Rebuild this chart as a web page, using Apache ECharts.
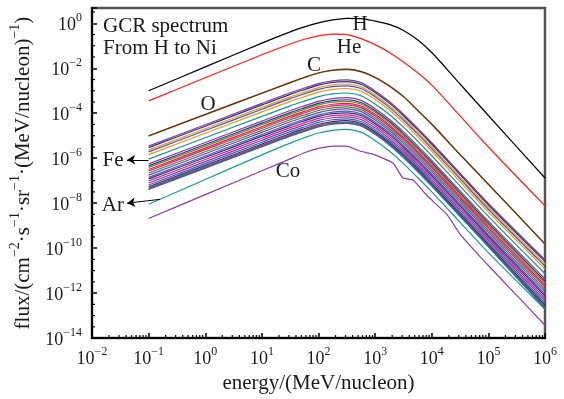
<!DOCTYPE html>
<html>
<head>
<meta charset="utf-8">
<script src="https://cdn.jsdelivr.net/npm/echarts@6.0.0/dist/echarts.min.js"></script>
<style>
  html, body { margin: 0; padding: 0; background: #fff; }
  #chart { width: 564px; height: 399px; }
</style>
</head>
<body>
<div id="chart"></div>
<script>
const FONT = '"Liberation Serif", "Times New Roman", serif';
const INK = "#1a1a1a";

// x grid: log10(energy / (MeV/nucleon))
const logE = [-1, 0, 1, 1.5, 1.75, 2, 2.25, 2.5, 2.75, 3, 3.25, 3.5, 3.75, 4, 4.5, 5, 6];

// log10(flux), one array per element
const H  = [-3.00, -1.94, -0.88, -0.38, -0.16, 0.02, 0.15, 0.22, 0.21, 0.10, -0.05, -0.32, -0.73, -1.30, -2.70, -4.10, -6.88];
const He = [-3.45, -2.42, -1.40, -0.92, -0.71, -0.56, -0.48, -0.50, -0.68, -0.95, -1.30, -1.72, -2.20, -2.75, -4.12, -5.50, -8.12];
const C  = [-5.02, -4.07, -3.12, -2.65, -2.42, -2.22, -2.10, -2.06, -2.16, -2.42, -2.80, -3.27, -3.88, -4.50, -5.85, -7.17, -9.83];
const O  = [-5.00, -4.05, -3.10, -2.63, -2.40, -2.20, -2.08, -2.04, -2.14, -2.40, -2.78, -3.25, -3.86, -4.48, -5.83, -7.15, -9.81];
const Ne = [-5.46, -4.51, -3.56, -3.09, -2.88, -2.68, -2.56, -2.52, -2.64, -3.01, -3.48, -4.04, -4.66, -5.31, -6.66, -8.01, -10.51];
const Mg = [-5.53, -4.58, -3.63, -3.16, -2.95, -2.75, -2.63, -2.59, -2.71, -3.08, -3.55, -4.11, -4.73, -5.38, -6.73, -8.08, -10.59];
const Si = [-5.64, -4.69, -3.74, -3.27, -3.06, -2.86, -2.74, -2.70, -2.82, -3.19, -3.66, -4.22, -4.84, -5.49, -6.84, -8.19, -10.71];
const N  = [-5.72, -4.77, -3.82, -3.35, -3.14, -2.94, -2.82, -2.78, -2.90, -3.27, -3.74, -4.30, -4.92, -5.57, -6.92, -8.27, -10.80];
const B  = [-5.84, -4.89, -3.94, -3.47, -3.26, -3.06, -2.94, -2.90, -3.02, -3.39, -3.86, -4.42, -5.04, -5.69, -7.04, -8.39, -10.93];
const Fe = [-6.04, -5.09, -4.14, -3.67, -3.46, -3.26, -3.14, -3.10, -3.22, -3.59, -4.06, -4.62, -5.24, -5.89, -7.24, -8.59, -11.14];
const S  = [-6.25, -5.30, -4.35, -3.88, -3.67, -3.47, -3.35, -3.31, -3.43, -3.80, -4.27, -4.83, -5.45, -6.10, -7.45, -8.80, -11.37];
const Li = [-6.34, -5.39, -4.44, -3.97, -3.76, -3.56, -3.44, -3.40, -3.52, -3.89, -4.36, -4.92, -5.54, -6.19, -7.54, -8.89, -11.47];
const Be = [-6.41, -5.46, -4.51, -4.04, -3.83, -3.63, -3.51, -3.47, -3.59, -3.96, -4.43, -4.99, -5.61, -6.26, -7.61, -8.96, -11.55];
const Ca = [-6.50, -5.55, -4.60, -4.13, -3.92, -3.72, -3.60, -3.56, -3.68, -4.05, -4.52, -5.08, -5.70, -6.35, -7.70, -9.05, -11.65];
const Ni = [-6.57, -5.62, -4.67, -4.20, -3.99, -3.79, -3.67, -3.63, -3.75, -4.12, -4.59, -5.15, -5.77, -6.42, -7.77, -9.12, -11.73];
const Na = [-6.66, -5.71, -4.76, -4.29, -4.08, -3.88, -3.76, -3.72, -3.84, -4.21, -4.68, -5.24, -5.86, -6.51, -7.86, -9.21, -11.83];
const Al = [-6.75, -5.80, -4.85, -4.38, -4.17, -3.97, -3.85, -3.81, -3.93, -4.30, -4.77, -5.33, -5.95, -6.60, -7.95, -9.30, -11.93];
const Cr = [-6.85, -5.90, -4.95, -4.48, -4.27, -4.07, -3.95, -3.91, -4.03, -4.40, -4.87, -5.43, -6.05, -6.70, -8.05, -9.40, -12.05];
const Ti = [-6.92, -5.97, -5.02, -4.55, -4.34, -4.14, -4.02, -3.98, -4.10, -4.47, -4.94, -5.50, -6.12, -6.77, -8.12, -9.47, -12.13];
const F  = [-7.01, -6.06, -5.11, -4.64, -4.43, -4.23, -4.11, -4.07, -4.19, -4.56, -5.03, -5.59, -6.21, -6.86, -8.21, -9.56, -12.23];
const P  = [-7.10, -6.15, -5.20, -4.73, -4.52, -4.32, -4.20, -4.16, -4.28, -4.65, -5.12, -5.68, -6.30, -6.95, -8.30, -9.65, -12.34];
const Mn = [-7.19, -6.24, -5.29, -4.82, -4.61, -4.41, -4.29, -4.25, -4.37, -4.74, -5.21, -5.77, -6.39, -7.04, -8.39, -9.74, -12.45];
const K  = [-7.27, -6.32, -5.37, -4.90, -4.69, -4.49, -4.37, -4.33, -4.45, -4.82, -5.29, -5.85, -6.47, -7.12, -8.47, -9.82, -12.54];
const Cl = [-7.33, -6.38, -5.43, -4.96, -4.75, -4.55, -4.43, -4.39, -4.51, -4.88, -5.35, -5.91, -6.53, -7.18, -8.53, -9.88, -12.62];
const Sc = [-7.36, -6.41, -5.46, -4.99, -4.78, -4.58, -4.46, -4.42, -4.54, -4.91, -5.38, -5.94, -6.56, -7.21, -8.56, -9.91, -12.64];
const V  = [-7.39, -6.44, -5.49, -5.02, -4.81, -4.61, -4.49, -4.45, -4.57, -4.94, -5.41, -5.97, -6.59, -7.24, -8.59, -9.94, -12.69];
const Ar = [-8.05, -6.95, -5.85, -5.33, -5.09, -4.88, -4.76, -4.72, -4.84, -5.21, -5.68, -6.24, -6.86, -7.50, -8.85, -10.20, -12.72];
// cobalt is jagged, so it keeps its own energies
const CoE = [-1, 0, 1, 1.5, 1.75, 2, 2.25, 2.5, 2.73, 2.96, 3.32, 3.49, 3.67, 3.92, 4.27, 4.5, 4.86, 5.5, 6];
const Co  = [-8.68, -7.62, -6.56, -6.03, -5.76, -5.56, -5.46, -5.46, -5.68, -5.82, -6.22, -6.88, -6.97, -7.67, -8.51, -9.38, -10.40, -12.10, -13.43];

// draw order and colours (H .. Ni)
const elements = [
  ["H", H, "#000000"], ["He", He, "#ff1f1f"], ["Li", Li, "#2c2c84"], ["Be", Be, "#5f8a2c"],
  ["B", B, "#f39019"], ["C", C, "#6f7f26"], ["N", N, "#3b5bb5"], ["O", O, "#6e2c1a"],
  ["F", F, "#e0197d"], ["Ne", Ne, "#7d3c98"], ["Na", Na, "#2e8b3e"], ["Mg", Mg, "#2c2c84"],
  ["Al", Al, "#7d3c98"], ["Si", Si, "#f39019"], ["P", P, "#7d3c98"], ["S", S, "#7d3c98"],
  ["Cl", Cl, "#e8202a"], ["Ar", Ar, "#1c9a96"], ["K", K, "#2c2c84"], ["Ca", Ca, "#e8202a"],
  ["Sc", Sc, "#3d7a3a"], ["Ti", Ti, "#2c2c84"], ["V", V, "#3b5bb5"], ["Cr", Cr, "#3b5bb5"],
  ["Mn", Mn, "#3b5bb5"], ["Fe", Fe, "#16918f"], ["Co", Co, "#8b3fa0"], ["Ni", Ni, "#e0197d"]
];

// in-plot labels (data coordinates)
const noteText = ["H", "He", "C", "O", "Fe", "Ar", "Co"];
const noteX = [2.735, 2.54, 1.92, 0.05, -1.63, -1.63, 1.46];
const noteY = [-0.07, -1.08, -1.87, -3.63, -6.09, -8.11, -6.57];

const sup = (v) => {
  const n = Math.round(v);
  if (Math.abs(v - n) > 1e-6) return "";
  return "{b|10}{s|" + String(n).replace("-", "\u2212") + "}";
};

const tickRich = {
  b: { fontFamily: FONT, fontSize: 18, color: INK, lineHeight: 22, verticalAlign: "bottom" },
  s: { fontFamily: FONT, fontSize: 12, color: INK, lineHeight: 12, verticalAlign: "top" }
};

// log minor ticks on x, half-decade minor ticks on y
const minorTicks = [];
for (let n = -2; n < 6; n++) {
  for (let k = 2; k <= 9; k++) minorTicks.push([n + Math.log10(k), -14, 0]);
}
for (let v = -13.5; v < 0.68; v += 1) minorTicks.push([-2, v, 1]);
for (let v = -13; v <= 0; v += 2) minorTicks.push([-2, v, 1]);

const chart = echarts.init(document.getElementById("chart"), null, { renderer: "canvas" });

const lineSeries = elements.map(([name, vals, color]) => {
  const xs = name === "Co" ? CoE : logE;
  const s = {
    name: name,
    type: "line",
    data: xs.map((x, i) => [x, vals[i]]),
    showSymbol: false,
    symbol: "none",
    smooth: name === "Co" ? 0.12 : 0.3,
    lineStyle: { color: color, width: 1.2 },
    itemStyle: { color: color },
    silent: true,
    animation: false
  };
  if (name === "Fe" || name === "Ar") {
    const from = name === "Fe" ? [-1.0, -6.07] : [-0.8, -7.83];
    const to = name === "Fe" ? [-1.38, -6.07] : [-1.38, -8.0];
    s.markLine = {
      silent: true,
      symbol: ["none", "arrow"],
      symbolSize: [7, 8],
      label: { show: false },
      lineStyle: { color: "#000", width: 1, type: "solid" },
      data: [[{ coord: from }, { coord: to }]],
      animation: false
    };
  }
  return s;
});

const option = {
  animation: false,
  backgroundColor: "#fff",
  title: {
    left: 98,
    top: 10,
    text: "GCR spectrum\nFrom H to Ni",
    textStyle: { fontFamily: FONT, fontSize: 21, fontWeight: "normal", color: INK, lineHeight: 22 }
  },
  grid: {
    left: 92, right: 19, top: 8, bottom: 59,
    show: true, borderColor: "#555", borderWidth: 2.5, backgroundColor: "transparent"
  },
  xAxis: {
    type: "value",
    min: -2, max: 6, interval: 1,
    axisLine: { onZero: false, lineStyle: { color: "#000", width: 2 } },
    axisTick: { inside: true, length: 5, lineStyle: { color: "#000", width: 1.5 } },
    splitLine: { show: false },
    axisLabel: { margin: 8, formatter: sup, rich: tickRich },
    name: "energy/(MeV/nucleon)",
    nameLocation: "middle",
    nameGap: 32,
    nameTextStyle: { fontFamily: FONT, fontSize: 21, color: INK }
  },
  yAxis: {
    type: "value",
    min: -14, max: 0.68, interval: 2,
    axisLine: { onZero: false, lineStyle: { color: "#000", width: 2 } },
    axisTick: { inside: true, length: 5, lineStyle: { color: "#000", width: 1.5 } },
    splitLine: { show: false },
    axisLabel: { margin: 10, formatter: sup, rich: tickRich },
    name: "{n|flux/(cm}{s|\u22122}{n|\u00b7s}{s|\u22121}{n|\u00b7sr}{s|\u22121}{n|\u00b7(MeV/nucleon)}{s|\u22121}{n|)}",
    nameLocation: "middle",
    nameRotate: 90,
    nameGap: 56,
    nameTextStyle: {
      rich: {
        n: { fontFamily: FONT, fontSize: 21, color: INK, lineHeight: 26, verticalAlign: "bottom" },
        s: { fontFamily: FONT, fontSize: 14, color: INK, lineHeight: 14, verticalAlign: "top" }
      }
    }
  },
  series: [
    ...lineSeries,
    {
      type: "custom",
      silent: true,
      clip: false,
      data: minorTicks,
      renderItem: (params, api) => {
        const p = api.coord([api.value(0), api.value(1)]);
        const kind = api.value(2);
        const shape = kind === 0
          ? { x1: p[0], y1: p[1], x2: p[0], y2: p[1] - 3 }
          : { x1: p[0], y1: p[1], x2: p[0] + 3, y2: p[1] };
        return { type: "line", shape: shape, style: { stroke: "#000", lineWidth: 1.2 } };
      }
    },
    {
      type: "custom",
      silent: true,
      clip: false,
      data: noteX.map((x, i) => [x, noteY[i]]),
      renderItem: (params, api) => {
        const p = api.coord([api.value(0), api.value(1)]);
        return {
          type: "text",
          x: p[0], y: p[1],
          style: {
            text: noteText[params.dataIndex],
            fontFamily: FONT, fontSize: 21, fill: INK,
            align: "center", verticalAlign: "middle"
          }
        };
      }
    }
  ]
};

chart.setOption(option);
</script>
</body>
</html>
